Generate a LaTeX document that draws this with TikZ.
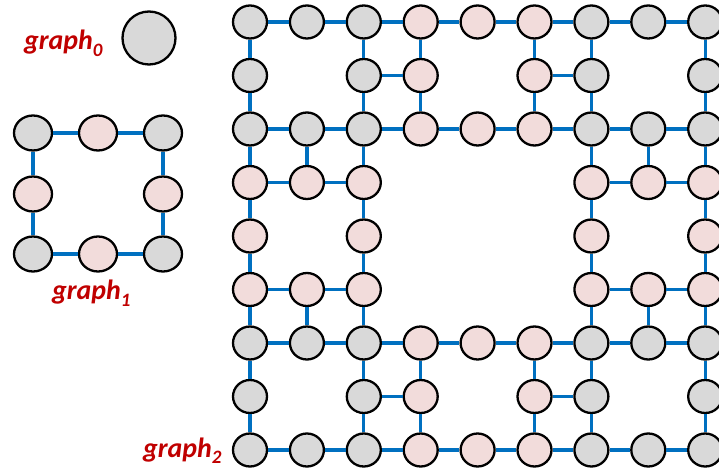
\documentclass[tikz,border=0pt]{standalone}
\usepackage{fontspec}
\setmainfont{Carlito}
\usetikzlibrary{shapes.geometric}
\definecolor{nodegrey}{HTML}{D9D9D9}
\definecolor{nodepink}{HTML}{F2DCDB}
\definecolor{edgeblue}{HTML}{0070C0}
\definecolor{labelred}{HTML}{C00000}
\newcommand\gexist[3]{\pgfmathtruncatemacro{#1}{(((mod(#2,3)==1) && (mod(#3,3)==1)) || ((#2>2) && (#2<6) && (#3>2) && (#3<6))) ? 0 : 1}}
\newcommand\glabel[1]{\textbf{\textit{graph\raisebox{-0.22em}{\fontsize{19}{19}\selectfont #1}}}}
\tikzset{
  basenode/.style={ellipse, draw=black, line width=2.3bp, inner sep=0pt},
  gnode/.style={basenode, fill=nodegrey, minimum width=34bp, minimum height=33bp},
  pnode/.style={basenode, fill=nodepink, minimum width=34bp, minimum height=33bp},
  gbig/.style={basenode, fill=nodegrey, minimum width=38bp, minimum height=35bp},
  pbig/.style={basenode, fill=nodepink, minimum width=38bp, minimum height=35bp},
  gzero/.style={circle, draw=black, line width=2.3bp, fill=nodegrey, minimum size=53bp, inner sep=0pt},
  link/.style={draw=edgeblue, line width=3.2bp},
  lbl/.style={text=labelred, font=\fontsize{28}{30}\selectfont, anchor=base west, inner sep=0pt}
}
\begin{document}
\begin{tikzpicture}[x=1bp,y=-1bp]
\useasboundingbox (0,0) rectangle (719,471);
\clip (0,0) rectangle (719,471);
% graph_0
\node[lbl] (l0) at (24,50) {\glabel{0}};
\node[gzero] (g0) at (149,38) {};
% graph_1
\node[lbl] (l1) at (52,300) {\glabel{1}};
\node[gbig] (a00) at (33,133) {};
\node[pbig] (a01) at (98,133) {};
\node[gbig] (a02) at (163,133) {};
\node[pbig] (a10) at (33,194) {};
\node[pbig] (a12) at (163,194) {};
\node[gbig] (a20) at (33,254) {};
\node[pbig] (a21) at (98,254) {};
\node[gbig] (a22) at (163,254) {};
\draw[link] (a00) -- (a01); \draw[link] (a01) -- (a02);
\draw[link] (a02) -- (a12); \draw[link] (a12) -- (a22);
\draw[link] (a22) -- (a21); \draw[link] (a21) -- (a20);
\draw[link] (a20) -- (a10); \draw[link] (a10) -- (a00);
% graph_2
\node[lbl] (l2) at (143,457) {\glabel{2}};
\foreach \r in {0,...,8}{
  \foreach \c in {0,...,8}{
    \gexist{\ex}{\r}{\c}
    \ifnum\ex=1
      \pgfmathtruncatemacro{\pk}{((int(\r/3)==1) || (int(\c/3)==1)) ? 1 : 0}
      \ifnum\pk=1
        \node[pnode] (n-\r-\c) at ({250+56.9*\c},{22+53.5*\r}) {};
      \else
        \node[gnode] (n-\r-\c) at ({250+56.9*\c},{22+53.5*\r}) {};
      \fi
    \fi
  }
}
\foreach \r in {0,...,8}{
  \foreach \c in {0,...,7}{
    \pgfmathtruncatemacro{\cc}{\c+1}
    \gexist{\ea}{\r}{\c}
    \gexist{\eb}{\r}{\cc}
    \ifnum\ea\eb=11
      \draw[link] (n-\r-\c) -- (n-\r-\cc);
    \fi
  }
}
\foreach \c in {0,...,8}{
  \foreach \r in {0,...,7}{
    \pgfmathtruncatemacro{\rr}{\r+1}
    \gexist{\ea}{\r}{\c}
    \gexist{\eb}{\rr}{\c}
    \ifnum\ea\eb=11
      \draw[link] (n-\r-\c) -- (n-\rr-\c);
    \fi
  }
}
\end{tikzpicture}
\end{document}
